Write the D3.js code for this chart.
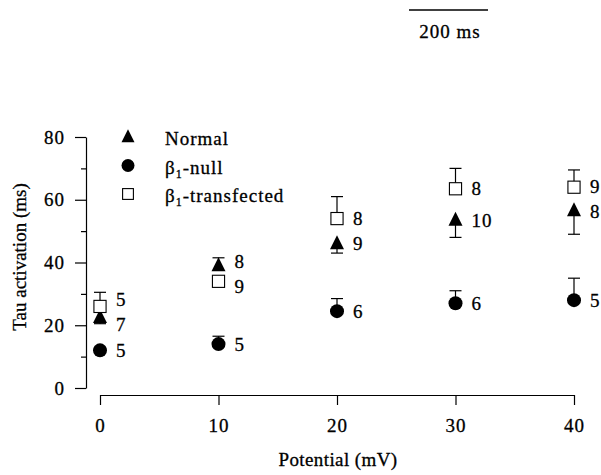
<!DOCTYPE html>
<html>
<head>
<meta charset="utf-8">
<script src="https://cdn.jsdelivr.net/npm/d3@7"></script>
<style>
  body { margin: 0; background: #fff; }
  svg text { font-family: 'Liberation Serif', 'Times New Roman', Times, Tinos, 'DejaVu Serif', serif; }
</style>
</head>
<body>
<svg id="chart" width="601" height="475"></svg>
<script>
var FONT = "'Liberation Serif', 'Times New Roman', Times, Tinos, 'DejaVu Serif', serif";

// potentials (mV) on the x axis
var potentials = [0, 10, 20, 30, 40];
var yTicks = [0, 20, 40, 60, 80];
var yMinorTicks = [10, 30, 50, 70];

// Normal
var normalMean = [22.5, 39, 46, 53.5, 56.5];
var normalErr  = [2, 2.5, 3, 5.5, 7.5];
var normalDir  = [-1, 1, -1, -1, -1];   // which side of the error bar is shown
var normalN    = [7, 8, 9, 10, 8];

// beta1-null
var nullMean = [12, 14, 24.5, 27, 28];
var nullErr  = [1, 2.5, 4, 4, 7];
var nullDir  = [1, 1, 1, 1, 1];
var nullN    = [5, 5, 6, 6, 5];

// beta1-transfected
var transMean = [26, 34, 54, 63.5, 64];
var transErr  = [4.5, 1.5, 7, 6.5, 5.5];
var transDir  = [1, 1, 1, 1, 1];
var transN    = [5, 9, 8, 8, 9];

var series = [
  {name: 'Normal', sub: null, shape: 'triangle', mean: normalMean, err: normalErr, dir: normalDir, n: normalN},
  {name: '-null', sub: '1', shape: 'circle', mean: nullMean, err: nullErr, dir: nullDir, n: nullN},
  {name: '-transfected', sub: '1', shape: 'square', mean: transMean, err: transErr, dir: transDir, n: transN}
];

var svg = d3.select('#chart');
var x = d3.scaleLinear().domain([0, 40]).range([100, 574]);
var y = d3.scaleLinear().domain([0, 80]).range([388, 137]);

// axes
svg.append('g').attr('transform', 'translate(86,0)')
    .call(d3.axisLeft(y).tickValues(yTicks).tickSize(11).tickSizeOuter(0).tickPadding(10));
svg.append('g').attr('transform', 'translate(86,0)')
    .call(d3.axisLeft(y).tickValues(yMinorTicks).tickSize(5).tickFormat(''))
    .select('.domain').remove();
svg.append('g').attr('transform', 'translate(0,395)')
    .call(d3.axisBottom(x).tickValues(potentials).tickSize(10).tickSizeOuter(0).tickPadding(14));

svg.selectAll('g').attr('font-family', FONT);
svg.selectAll('.tick text')
    .attr('font-size', 19)
    .attr('letter-spacing', 1)
    .attr('fill', '#000');
svg.selectAll('.domain, .tick line').attr('stroke', '#000').attr('stroke-width', 1.2);

// axis titles
svg.append('text')
    .attr('x', 338).attr('y', 466)
    .attr('text-anchor', 'middle')
    .attr('font-size', 19)
    .attr('letter-spacing', 0.4)
    .text('Potential (mV)');
svg.append('text')
    .attr('transform', 'translate(26,257) rotate(-90)')
    .attr('text-anchor', 'middle')
    .attr('font-size', 19)
    .text('Tau activation (ms)');

// scale bar
svg.append('line')
    .attr('x1', 409).attr('x2', 488).attr('y1', 10).attr('y2', 10)
    .attr('stroke', '#000').attr('stroke-width', 1.3);
svg.append('text')
    .attr('x', 450).attr('y', 38)
    .attr('text-anchor', 'middle')
    .attr('font-size', 19)
    .attr('letter-spacing', 1)
    .text('200 ms');

function drawMarker(g, shape, cx, cy, s){
    if (shape === 'triangle'){
        g.append('path')
            .attr('d', 'M' + cx + ',' + (cy - s*0.6) + 'L' + (cx + s/2) + ',' + (cy + s*0.4) + 'L' + (cx - s/2) + ',' + (cy + s*0.4) + 'Z')
            .attr('fill', '#000');
    } else if (shape === 'circle'){
        g.append('circle').attr('cx', cx).attr('cy', cy).attr('r', s/2).attr('fill', '#000');
    } else {
        g.append('rect')
            .attr('x', cx - s*0.45).attr('y', cy - s*0.45)
            .attr('width', s*0.9).attr('height', s*0.9)
            .attr('fill', '#fff').attr('stroke', '#000').attr('stroke-width', 1.1);
    }
}

// error bars + markers
var labels = [];
series.forEach(function(s){
    var g = svg.append('g');
    potentials.forEach(function(p, i){
        var cx = x(p), cy = y(s.mean[i]);
        var ey = y(s.mean[i] + s.dir[i]*s.err[i]);
        g.append('line').attr('x1', cx).attr('x2', cx).attr('y1', cy).attr('y2', ey)
            .attr('stroke', '#000').attr('stroke-width', 1.2);
        g.append('line').attr('x1', cx - 6).attr('x2', cx + 6).attr('y1', ey).attr('y2', ey)
            .attr('stroke', '#000').attr('stroke-width', 1.2);
        labels.push({i: i, x: cx + 16, y: cy, text: s.n[i]});
    });
});
series.forEach(function(s){
    var g = svg.append('g');
    potentials.forEach(function(p, i){
        drawMarker(g, s.shape, x(p), y(s.mean[i]), s.shape === 'square' ? 13.5 : 14);
    });
});

// spread the n labels a little where points sit close together
potentials.forEach(function(p, i){
    var col = labels.filter(function(l){ return l.i === i; })
        .sort(function(a, b){ return a.y - b.y; });
    for (var k = 0; k < 20; k++){
        for (var j = 1; j < col.length; j++){
            var gap = col[j].y - col[j-1].y;
            if (gap < 25){
                var d = (25 - gap)/2;
                col[j-1].y -= d;
                col[j].y += d;
            }
        }
    }
});
svg.append('g').selectAll('text').data(labels).enter().append('text')
    .attr('x', function(d){ return d.x; })
    .attr('y', function(d){ return d.y; })
    .attr('dy', '0.35em')
    .attr('font-size', 19)
    .attr('letter-spacing', 1)
    .text(function(d){ return d.text; });

// legend
var legend = svg.append('g');
series.forEach(function(s, k){
    var ly = 137 + k*28.5;
    drawMarker(legend, s.shape, 128, ly, s.shape === 'square' ? 12 : 13);
    var t = legend.append('text').attr('x', 165).attr('y', ly + 8)
        .attr('font-size', 19).attr('letter-spacing', 1);
    if (s.sub){
        t.append('tspan').text('\u03b2');
        t.append('tspan').attr('dy', 4).attr('font-size', 12).text(s.sub);
        t.append('tspan').attr('dy', -4).text(s.name);
    } else {
        t.text(s.name);
    }
});

svg.selectAll('text')
    .attr('font-family', FONT)
    .attr('stroke', '#000')
    .attr('stroke-width', 0.3);
</script>
</body>
</html>
